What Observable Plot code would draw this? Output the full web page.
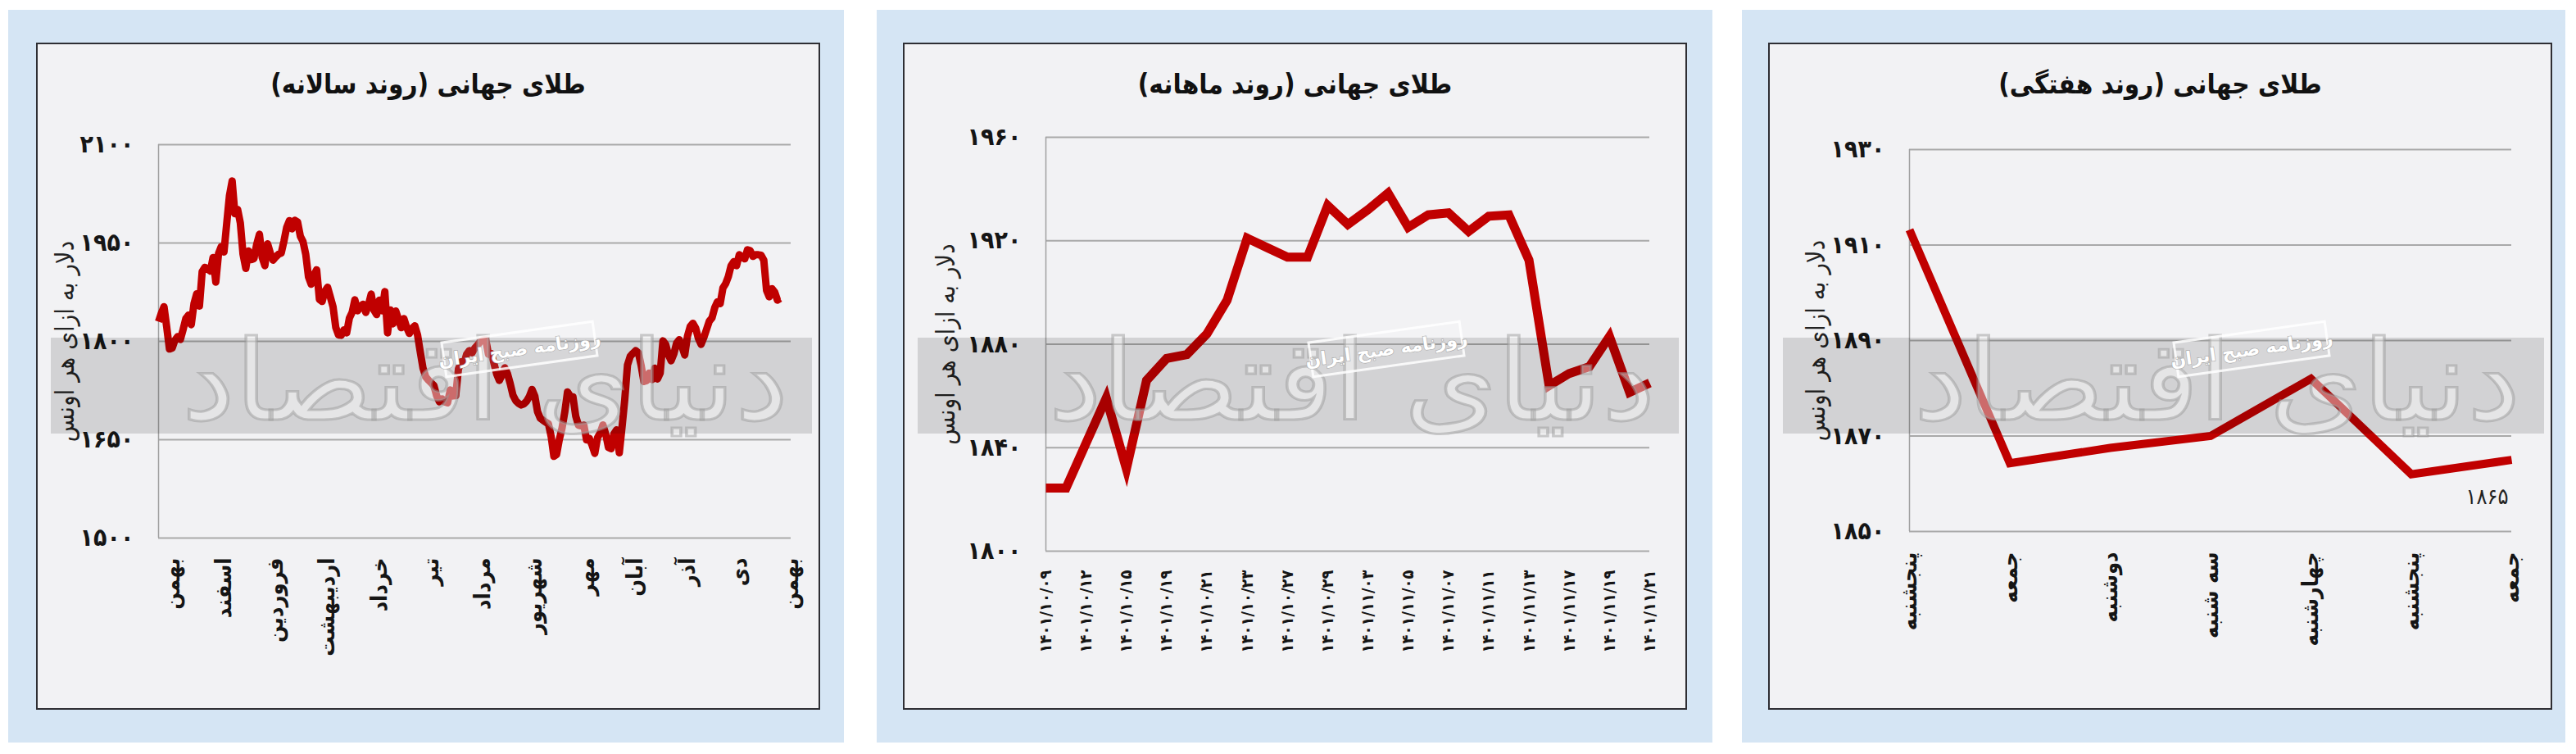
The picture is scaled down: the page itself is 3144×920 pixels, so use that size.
<!DOCTYPE html>
<html><head><meta charset="utf-8">
<script src="https://cdn.jsdelivr.net/npm/d3@7"></script>
<script src="https://cdn.jsdelivr.net/npm/@observablehq/plot@0.6"></script>
<style>
body{margin:0;background:#fff;}
#root{position:relative;width:3144px;height:920px;background:#fff;overflow:hidden;font-family:"DejaVu Sans",sans-serif;}
.blue{position:absolute;top:12px;height:894px;background:#d5e5f4;}
.box{position:absolute;top:52px;height:814px;width:957px;background:#f2f2f4;box-shadow:inset 0 0 0 2px #2e2e33;}
.title{position:absolute;left:0;right:0;top:29px;line-height:44px;text-align:center;font-size:33px;font-weight:bold;color:#111;font-family:"DejaVu Sans Condensed","DejaVu Sans",sans-serif;}
.box svg{position:absolute;left:0;top:0;}
</style></head>
<body><div id="root"></div>
<script>
// ---------- data ----------
const titles = ["طلای جهانی (روند سالانه)", "طلای جهانی (روند ماهانه)", "طلای جهانی (روند هفتگی)"];
const yLabel = "دلار به ازای هر اونس";

// yearly (daily closes, one per trading day)
const yearlyValues = [
1830.0,1842.5,1852.9,1821.7,1788.3,1789.6,1801.7,1807.1,1802.9,1817.9,
1834.6,1840.0,1825.4,1857.5,1872.5,1853.8,1906.3,1912.9,1910.4,1907.1,
1927.9,1890.4,1933.8,1944.6,1936.3,1979.6,2022.1,2044.6,1994.6,2001.3,
1980.4,1932.5,1911.3,1937.9,1924.6,1926.3,1947.9,1963.3,1927.9,1915.4,
1948.8,1934.6,1923.8,1928.8,1932.9,1934.6,1952.9,1973.8,1984.2,1971.7,
1984.6,1982.1,1960.4,1952.1,1932.5,1898.3,1887.1,1901.3,1909.2,1863.8,
1860.8,1876.3,1882.5,1867.9,1852.9,1821.3,1809.6,1809.2,1817.5,1812.9,
1835.4,1844.2,1863.3,1846.7,1852.1,1856.7,1844.2,1855.8,1872.1,1847.5,
1840.8,1862.9,1846.7,1875.8,1812.9,1847.9,1826.7,1846.3,1833.8,1820.8,
1834.6,1821.3,1812.1,1820.0,1823.8,1809.6,1783.8,1759.2,1745.8,1740.8,
1736.7,1732.5,1717.1,1707.9,1712.1,1707.5,1706.3,1725.8,1716.7,1717.1,
1757.9,1768.8,1765.8,1780.4,1785.8,1782.5,1789.6,1794.2,1799.6,1802.1,
1802.9,1780.4,1781.7,1767.1,1750.4,1740.4,1748.8,1759.6,1750.4,1735.4,
1717.9,1709.6,1705.4,1702.9,1704.6,1708.8,1715.8,1726.7,1716.7,1692.9,
1682.9,1679.6,1676.7,1674.2,1655.0,1624.6,1627.5,1650.4,1667.9,1692.1,
1722.9,1716.3,1715.4,1686.3,1672.1,1671.3,1672.1,1649.6,1652.1,1641.7,
1629.2,1652.9,1660.4,1672.5,1658.8,1638.3,1636.3,1658.8,1665.0,1630.0,
1669.2,1711.3,1763.8,1777.1,1781.7,1785.8,1782.5,1763.3,1738.8,1740.0,
1751.7,1741.7,1759.2,1742.5,1751.7,1800.8,1795.4,1779.6,1770.4,1780.8,
1797.1,1802.5,1791.7,1779.2,1807.9,1822.5,1827.5,1820.4,1804.6,1795.4,
1805.8,1818.3,1830.8,1835.8,1851.3,1860.4,1857.5,1881.3,1887.9,1898.8,
1915.4,1921.7,1915.4,1932.1,1928.8,1925.8,1939.6,1938.3,1929.6,1932.1,
1932.1,1931.3,1923.8,1877.9,1867.9,1880.4,1875.0,1862.9,1865.4];
const monthNames = ["بهمن","اسفند","فروردین","اردیبهشت","خرداد","تیر","مرداد","شهریور","مهر","آبان","آذر","دی","بهمن"];
const monthTickIdx = [5,24,43,62,81,100,119,138,157,175,194,213,232];
const yearlyTicks = [1500,1650,1800,1950,2100];

// monthly (every trading day, labels on every other day)
const monthlyValues = [1824.4,1824.4,1841.8,1859.2,1831.8,1866.0,1874.5,1876.0,1884.0,1897.0,
1921.0,1917.3,1913.7,1913.7,1933.6,1926.3,1932.0,1938.4,1925.2,1930.0,
1930.8,1923.6,1929.5,1930.0,1912.5,1864.0,1868.7,1871.3,1883.0,1861.4,1865.0];
const monthlyDates = ["۱۴۰۱/۱۰/۰۹","۱۴۰۱/۱۰/۱۲","۱۴۰۱/۱۰/۱۵","۱۴۰۱/۱۰/۱۹","۱۴۰۱/۱۰/۲۱","۱۴۰۱/۱۰/۲۳","۱۴۰۱/۱۰/۲۷","۱۴۰۱/۱۰/۲۹",
"۱۴۰۱/۱۱/۰۳","۱۴۰۱/۱۱/۰۵","۱۴۰۱/۱۱/۰۷","۱۴۰۱/۱۱/۱۱","۱۴۰۱/۱۱/۱۳","۱۴۰۱/۱۱/۱۷","۱۴۰۱/۱۱/۱۹","۱۴۰۱/۱۱/۲۱"];
const monthlyTicks = [1800,1840,1880,1920,1960];

// weekly
const weekDays = ["پنجشنبه","جمعه","دوشنبه","سه شنبه","چهارشنبه","پنجشنبه","جمعه"];
const weeklyValues = [1913.2,1864.3,1867.5,1870.0,1882.0,1862.0,1865.0];
const weeklyTicks = [1850,1870,1890,1910,1930];

// ---------- helpers ----------
const fa = v => String(v).replace(/\d/g, d => "۰۱۲۳۴۵۶۷۸۹"[d]);
const RED = "#c00000";
const FONT = "DejaVu Sans Condensed, DejaVu Sans, sans-serif";
const W = 957, H = 814;

function overlay(svg) {
  const g = d3.select(svg).append("g").attr("pointer-events", "none");
  g.append("rect").attr("x", 18).attr("y", 360).attr("width", W - 28).attr("height", 117)
    .attr("fill", "#000").attr("fill-opacity", 0.13);
  g.append("text").attr("x", 548).attr("y", 460).attr("text-anchor", "middle")
    .attr("font-family", "DejaVu Sans Condensed, DejaVu Sans").attr("font-size", 135)
    .attr("textLength", 740).attr("lengthAdjust", "spacingAndGlyphs")
    .attr("fill", "#fff").attr("fill-opacity", 0.42)
    .attr("stroke", "#9a9a9a").attr("stroke-opacity", 0.5).attr("stroke-width", 3)
    .text("دنیای اقتصاد");
  const st = g.append("g").attr("transform", "translate(590,374) rotate(-8)");
  st.append("rect").attr("x", -93).attr("y", -21).attr("width", 186).attr("height", 42)
    .attr("fill", "#fff").attr("fill-opacity", 0.1)
    .attr("stroke", "#fff").attr("stroke-opacity", 0.85).attr("stroke-width", 3);
  st.append("text").attr("text-anchor", "middle").attr("dy", "0.35em")
    .attr("font-family", "DejaVu Sans").attr("font-size", 22).attr("font-weight", "bold")
    .attr("fill", "#fff").attr("stroke", "#a8a8a8").attr("stroke-width", 1.2)
    .attr("paint-order", "stroke").text("روزنامه صبح ایران");
}

function panel(cfg) {
  const root = document.getElementById("root");
  const blue = document.createElement("div");
  blue.className = "blue";
  blue.style.left = cfg.blueX + "px"; blue.style.width = cfg.blueW + "px";
  root.appendChild(blue);
  const box = document.createElement("div");
  box.className = "box";
  box.style.left = cfg.boxX + "px";
  root.appendChild(box);

  const svg = Plot.plot({
    width: W, height: H,
    marginLeft: cfg.m[0], marginRight: cfg.m[1], marginTop: cfg.m[2], marginBottom: cfg.m[3],
    style: {background: "transparent", overflow: "visible", fontFamily: FONT},
    x: {domain: cfg.xDomain},
    y: {domain: cfg.yDomain},
    marks: [
      Plot.gridY(cfg.yTicks, {stroke: "#a9a9a9", strokeOpacity: 1, strokeWidth: 2}),
      Plot.ruleX([cfg.xDomain[0]], {stroke: "#a0a0a0", strokeWidth: 1.5}),
      Plot.axisY(cfg.yTicks, {tickSize: 0, tickPadding: 30, tickFormat: fa, fontSize: 30,
        fontWeight: "bold", fontFamily: FONT, fill: "#151515", label: null}),
      Plot.axisX(cfg.xTicks, {tickSize: 0, tickPadding: cfg.xPad, tickFormat: cfg.xFormat,
        tickRotate: -90, textAnchor: "end", lineAnchor: "middle", fontSize: cfg.xFont,
        fontWeight: "bold", fontFamily: FONT, fill: "#151515", label: null}),
      Plot.text([yLabel], {frameAnchor: "left", dx: cfg.yLabDx, rotate: -90, text: d => d,
        textAnchor: "middle", lineAnchor: "middle",
        fontSize: 31, fontFamily: "DejaVu Sans Condensed, DejaVu Sans", fill: "#222"}),
      Plot.lineY(cfg.values, {x: (d, i) => i, y: d => d, stroke: RED, strokeWidth: cfg.sw,
        strokeLinejoin: cfg.join, strokeLinecap: "butt", strokeMiterlimit: 10}),
      ...(cfg.extra || [])
    ]
  });
  overlay(svg);
  box.appendChild(svg);
  const t = document.createElement("div");
  t.className = "title"; t.dir = "rtl"; t.textContent = cfg.title;
  box.appendChild(t);
}

const monthByIdx = new Map(monthTickIdx.map((d, i) => [d, monthNames[i]]));

panel({
  blueX: 10, blueW: 1020, boxX: 44, m: [149, 36, 124, 210],
  xDomain: [0, 232], yDomain: [1500, 2100], yTicks: yearlyTicks,
  xTicks: monthTickIdx, xFormat: d => monthByIdx.get(d), xPad: 24, xFont: 27,
  yLabDx: -113, values: yearlyValues, sw: 9, join: "round", title: titles[0]
});

panel({
  blueX: 1070, blueW: 1020, boxX: 1102, m: [174, 46, 115, 194],
  xDomain: [0, 30], yDomain: [1800, 1960], yTicks: monthlyTicks,
  xTicks: d3.range(0, 31, 2), xFormat: d => monthlyDates[d / 2], xPad: 23, xFont: 20,
  yLabDx: -121, values: monthlyValues, sw: 11, join: "miter", title: titles[1]
});

panel({
  blueX: 2126, blueW: 1005, boxX: 2158, m: [172, 50, 130, 218],
  xDomain: [0, 6], yDomain: [1850, 1930], yTicks: weeklyTicks,
  xTicks: d3.range(0, 7), xFormat: d => weekDays[d], xPad: 25, xFont: 27,
  yLabDx: -113, values: weeklyValues, sw: 10, join: "miter", title: titles[2],
  extra: [Plot.text([weeklyValues.length - 1], {x: d => d, y: d => weeklyValues[d],
    text: d => fa(Math.round(weeklyValues[d])), dx: -30, dy: 45, fontSize: 27,
    fontFamily: FONT, fill: "#222"})]
});
</script></body></html>
